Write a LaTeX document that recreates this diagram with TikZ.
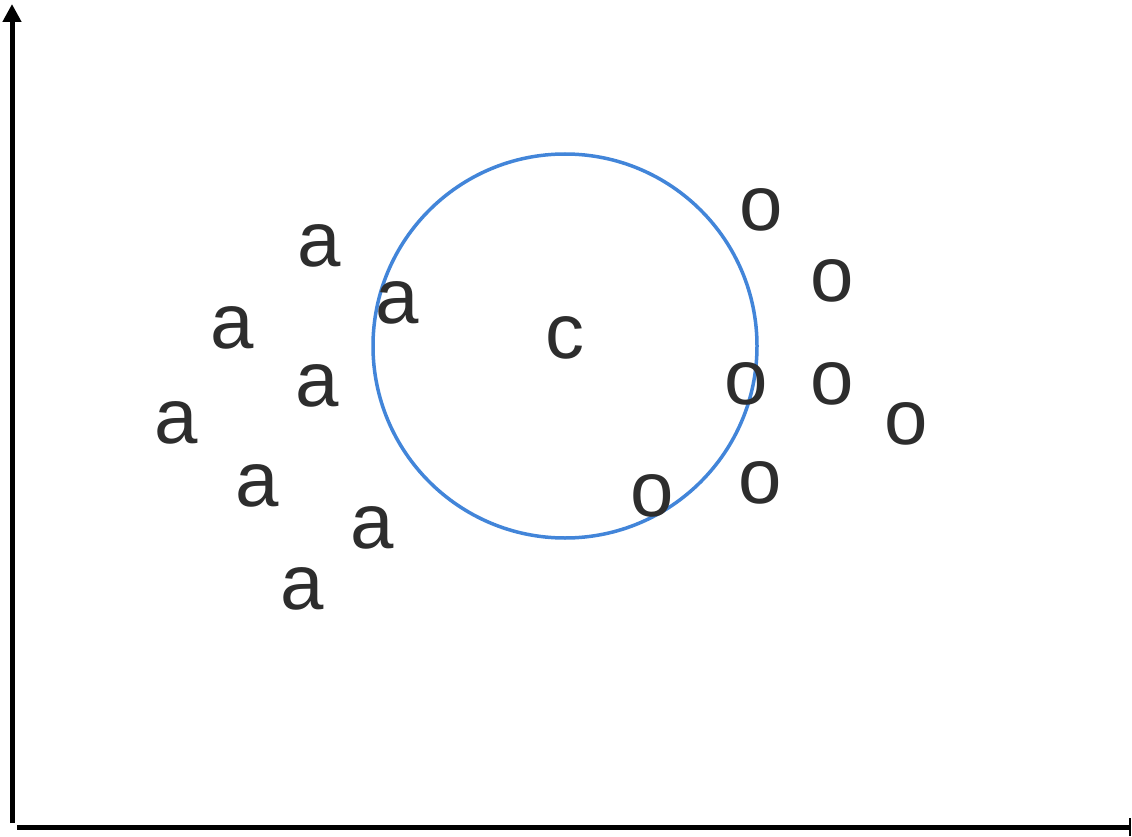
\documentclass[tikz,border=0pt]{standalone}
\usepackage{fontspec}
\setmainfont{Liberation Sans}
\usetikzlibrary{arrows.meta}
\definecolor{ringblue}{RGB}{66,133,217}
\definecolor{lettergray}{RGB}{45,45,45}
\tikzset{
  pt/.style={anchor=base, inner sep=0pt, text=lettergray, font=\fontsize{78}{80}\selectfont},
  axisline/.style={line width=5pt, black},
  ring/.style={draw=ringblue, line width=3.5pt}
}
\begin{document}
\begin{tikzpicture}[x=1pt, y=-1pt]
\useasboundingbox (0,0) rectangle (1132,837);
% axes
\coordinate (ytop) at (12,4);
\coordinate (ybot) at (12,823);
\coordinate (xleft) at (17,827);
\coordinate (xright) at (1131,827);
\draw[axisline, -{Triangle[width=18pt,length=18pt]}] (ybot) -- (ytop);
\draw[axisline, -{Bar[width=18pt,line width=2.5pt]}] (xleft) -- (xright);
% circle
\coordinate (cc) at (565,346);
\draw[ring] (cc) circle[radius=192];
% letters a
\node[pt] (a1) at (319,266) {a};
\node[pt] (a2) at (232,348) {a};
\node[pt] (a3) at (397,323) {a};
\node[pt] (a4) at (317,406) {a};
\node[pt] (a5) at (176,443) {a};
\node[pt] (a6) at (257,506) {a};
\node[pt] (a7) at (372,548) {a};
\node[pt] (a8) at (302,609) {a};
% c
\node[pt] (c) at (565,358) {c};
% letters o
\node[pt] (o1) at (761,230) {o};
\node[pt] (o2) at (832,301) {o};
\node[pt] (o3) at (746,404) {o};
\node[pt] (o4) at (832,404) {o};
\node[pt] (o5) at (906,444) {o};
\node[pt] (o6) at (760,503) {o};
\node[pt] (o7) at (652,516) {o};
\end{tikzpicture}
\end{document}
